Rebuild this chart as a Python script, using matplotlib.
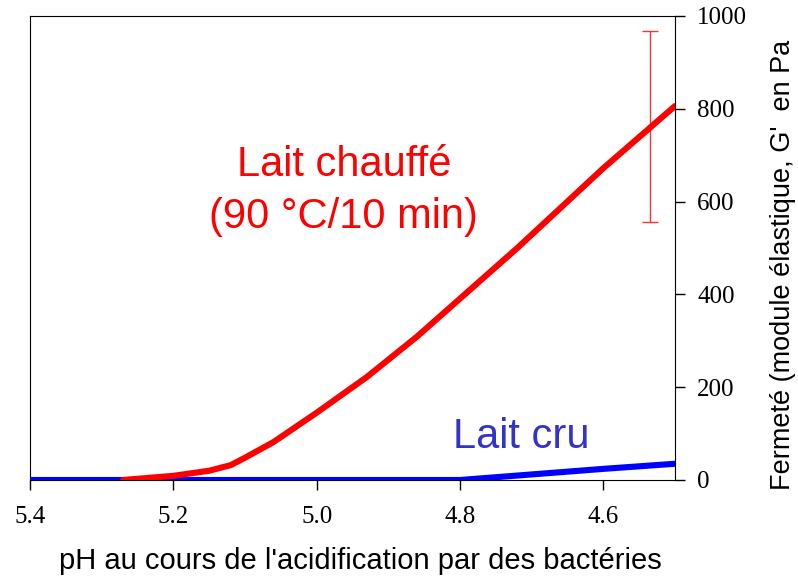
import matplotlib.pyplot as plt

# pH values (x axis, reversed) and firmness G' in Pa
ph_chauffe = [5.27, 5.2, 5.15, 5.12, 5.1, 5.06, 5.0, 4.93, 4.86, 4.83, 4.72, 4.6, 4.5]
g_chauffe = [0, 9, 20, 32, 48, 82, 145, 222, 309, 350, 500, 672, 806]

ph_cru = [5.4, 5.2, 5.0, 4.8, 4.7, 4.6, 4.5]
g_cru = [0, 0, 0, 0, 12, 24, 35]

# error bar on heated milk
err_ph = [4.535]
err_center = [762]
err_half = [206]

xticks = [5.4, 5.2, 5.0, 4.8, 4.6]
xtick_labels = ['5.4', '5.2', '5.0', '4.8', '4.6']
yticks = [0, 200, 400, 600, 800, 1000]

fig = plt.figure(figsize=(7.98, 5.78), dpi=100)
ax = fig.add_axes([30 / 798, 98 / 578, 645 / 798, 464 / 578])

ax.plot(ph_cru, g_cru, color='#0000ff', lw=4.4, solid_capstyle='round', zorder=3)
ax.plot(ph_chauffe, g_chauffe, color='#ff0000', lw=4.4, solid_capstyle='round',
        solid_joinstyle='round', zorder=4)
ax.errorbar(err_ph, err_center, yerr=err_half, fmt='none', ecolor='#ff3333',
            elinewidth=1, capsize=6, capthick=1, zorder=2)

ax.set_xlim(5.4, 4.5)
ax.set_ylim(0, 1000)
ax.yaxis.tick_right()
ax.set_xticks(xticks)
ax.set_xticklabels(xtick_labels)
ax.set_yticks(yticks)
ax.tick_params(axis='both', direction='out', length=7, width=1, labelsize=18)
ax.tick_params(axis='x', pad=12)
ax.tick_params(axis='y', pad=9)
for lab in ax.get_xticklabels() + ax.get_yticklabels():
    lab.set_family('Liberation Serif')

ax.text(4.962, 623, "Lait chauffé\n(90 °C/10 min)", color='#ff0000',
        fontsize=30, ha='center', va='center', linespacing=1.38,
        family='Liberation Sans')
ax.text(4.715, 93, "Lait cru", color='#3333cc', fontsize=30,
        ha='center', va='center', family='Liberation Sans')

fig.text(360 / 798, 17 / 578, "pH au cours de l'acidification par des bactéries",
         ha='center', va='center', fontsize=21, family='Liberation Sans')
fig.text(783 / 798, 88 / 578, "Fermeté (module élastique, G'  en Pa",
         rotation=90, ha='center', va='bottom', fontsize=19.5,
         family='Liberation Sans')

fig.savefig('out.png', dpi=100)
